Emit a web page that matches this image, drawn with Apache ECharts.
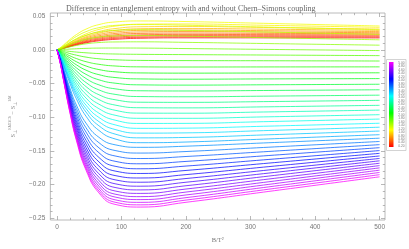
<!DOCTYPE html>
<html><head><meta charset="utf-8">
<script src="https://cdn.jsdelivr.net/npm/echarts@6/dist/echarts.min.js"></script>
<style>html,body{margin:0;padding:0;background:#fff}#c{width:409px;height:249px}</style>
</head><body><div id="c"></div>
<script>
// B/T^2 sample positions
const xSamples = [0, 5, 10, 20, 30, 45, 65, 90, 130, 200, 320, 500];
// coupling parameter of each curve (legend scale 0.20 .. 5.00)
const couplings = [0.2,0.3,0.4,0.5,0.6,0.7,0.8,0.9,1.0,1.1,1.2,1.3,1.4,1.5,1.6,1.7,1.8,1.9,2.0,2.1,2.2,2.3,2.4,2.5,2.6,2.7,2.8,2.9,3.0,3.1,3.2,3.3,3.4,3.5,3.6,3.7,3.8,3.9,4.0,4.1,4.2,4.3,4.4,4.5,4.6,4.7,4.8,4.9,5.0];
// S_EMDCS - S_EM at xSamples
const p02 = [0, .0010, .0023, .0049, .0074, .0105, .0135, .0157, .0173, .0179, .0179, .0178];
const p03 = [0, .0011, .0025, .0054, .0081, .0115, .0147, .0172, .0188, .0194, .0194, .0192];
const p04 = [0, .0012, .0027, .0059, .0088, .0125, .0161, .0188, .0206, .0212, .0210, .0207];
const p05 = [0, .0013, .0029, .0064, .0096, .0137, .0176, .0205, .0224, .0230, .0227, .0222];
const p06 = [0, .0014, .0032, .0070, .0105, .0150, .0192, .0224, .0245, .0250, .0246, .0238];
const p07 = [0, .0015, .0035, .0077, .0115, .0164, .0210, .0244, .0267, .0272, .0266, .0255];
const p08 = [0, .0017, .0038, .0084, .0126, .0179, .0229, .0266, .0290, .0295, .0286, .0272];
const p09 = [0, .0018, .0042, .0091, .0136, .0194, .0249, .0289, .0314, .0319, .0308, .0290];
const p10 = [0, .0020, .0046, .0100, .0150, .0213, .0273, .0317, .0344, .0348, .0333, .0310];
const p11 = [0, .0022, .0051, .0111, .0167, .0238, .0304, .0353, .0382, .0385, .0366, .0335];
const p12 = [0, .0032, .0073, .0155, .0227, .0309, .0376, .0415, .0430, .0421, .0395, .0355];
const p13 = [0, .0028, .0064, .0136, .0199, .0271, .0330, .0364, .0376, .0366, .0340, .0300];
const p14 = [0, .0023, .0051, .0109, .0160, .0217, .0264, .0291, .0300, .0290, .0266, .0230];
const p15 = [0, .0016, .0037, .0079, .0115, .0157, .0190, .0208, .0213, .0204, .0182, .0150];
const p16 = [0, .0009, .0021, .0045, .0066, .0090, .0109, .0118, .0120, .0112, .0095, .0070];
const p17 = [0, .0002, .0006, .0012, .0017, .0023, .0027, .0028, .0027, .0020, .0008, -.0010];
const p18 = [0, -.0005, -.0010, -.0022, -.0032, -.0043, -.0054, -.0061, -.0066, -.0070, -.0076, -.0085];
const p19 = [0, -.0011, -.0025, -.0054, -.0078, -.0107, -.0132, -.0147, -.0156, -.0159, -.0161, -.0165];
const p20 = [0, -.0018, -.0041, -.0088, -.0128, -.0175, -.0214, -.0239, -.0252, -.0254, -.0253, -.0252];
const p21 = [0, -.0025, -.0056, -.0119, -.0175, -.0239, -.0292, -.0325, -.0342, -.0345, -.0343, -.0340];
const p22 = [0, -.0032, -.0071, -.0151, -.0221, -.0301, -.0368, -.0410, -.0431, -.0435, -.0431, -.0426];
const p23 = [0, -.0038, -.0086, -.0182, -.0266, -.0363, -.0444, -.0494, -.0519, -.0523, -.0518, -.0510];
const p24 = [0, -.0045, -.0100, -.0213, -.0311, -.0425, -.0519, -.0578, -.0607, -.0610, -.0603, -.0592];
const p25 = [0, -.0051, -.0115, -.0243, -.0355, -.0485, -.0594, -.0660, -.0693, -.0696, -.0687, -.0672];
const p26 = [0, -.0057, -.0129, -.0273, -.0399, -.0545, -.0666, -.0740, -.0777, -.0779, -.0768, -.0749];
const p27 = [0, -.0063, -.0142, -.0302, -.0442, -.0603, -.0737, -.0819, -.0859, -.0861, -.0846, -.0823];
const p28 = [0, -.0069, -.0156, -.0330, -.0483, -.0660, -.0806, -.0896, -.0939, -.0940, -.0922, -.0894];
const p29 = [0, -.0075, -.0169, -.0358, -.0524, -.0715, -.0873, -.0970, -.1016, -.1016, -.0995, -.0962];
const p30 = [0, -.0081, -.0182, -.0385, -.0563, -.0769, -.0939, -.1043, -.1092, -.1091, -.1066, -.1027];
const p31 = [0, -.0086, -.0194, -.0411, -.0602, -.0821, -.1003, -.1113, -.1165, -.1162, -.1134, -.1089];
const p32 = [0, -.0092, -.0206, -.0437, -.0639, -.0872, -.1065, -.1182, -.1236, -.1232, -.1199, -.1148];
const p33 = [0, -.0097, -.0218, -.0462, -.0676, -.0923, -.1127, -.1250, -.1306, -.1300, -.1263, -.1205];
const p34 = [0, -.0104, -.0236, -.0497, -.0725, -.0985, -.1196, -.1322, -.1378, -.1368, -.1325, -.1259];
const p35 = [0, -.0120, -.0272, -.0567, -.0817, -.1088, -.1298, -.1409, -.1447, -.1430, -.1382, -.1311];
const p36 = [0, -.0128, -.0289, -.0603, -.0868, -.1156, -.1378, -.1494, -.1532, -.1509, -.1449, -.1360];
const p37 = [0, -.0135, -.0305, -.0636, -.0916, -.1220, -.1454, -.1575, -.1613, -.1583, -.1513, -.1407];
const p38 = [0, -.0142, -.0321, -.0669, -.0963, -.1283, -.1527, -.1654, -.1691, -.1656, -.1574, -.1452];
const p39 = [0, -.0148, -.0336, -.0700, -.1008, -.1342, -.1597, -.1728, -.1765, -.1725, -.1633, -.1495];
const p40 = [0, -.0155, -.0350, -.0730, -.1050, -.1398, -.1663, -.1799, -.1835, -.1790, -.1688, -.1536];
const p41 = [0, -.0160, -.0363, -.0757, -.1090, -.1451, -.1726, -.1866, -.1902, -.1852, -.1741, -.1575];
const p42 = [0, -.0166, -.0376, -.0784, -.1128, -.1501, -.1785, -.1929, -.1965, -.1910, -.1791, -.1612];
const p43 = [0, -.0171, -.0388, -.0808, -.1163, -.1548, -.1840, -.1988, -.2024, -.1965, -.1838, -.1647];
const p44 = [0, -.0176, -.0399, -.0831, -.1196, -.1591, -.1891, -.2043, -.2079, -.2017, -.1883, -.1683];
const p45 = [0, -.0180, -.0409, -.0852, -.1227, -.1632, -.1940, -.2095, -.2131, -.2066, -.1927, -.1718];
const p46 = [0, -.0184, -.0418, -.0872, -.1255, -.1669, -.1984, -.2142, -.2179, -.2111, -.1968, -.1752];
const p47 = [0, -.0188, -.0427, -.0890, -.1280, -.1703, -.2024, -.2185, -.2223, -.2154, -.2007, -.1786];
const p48 = [0, -.0192, -.0435, -.0906, -.1304, -.1735, -.2062, -.2226, -.2264, -.2194, -.2044, -.1820];
const p49 = [0, -.0195, -.0442, -.0920, -.1325, -.1763, -.2095, -.2262, -.2301, -.2230, -.2079, -.1853];
const p50 = [0, -.0197, -.0448, -.0933, -.1343, -.1787, -.2124, -.2294, -.2334, -.2263, -.2112, -.1885];
const curveValues = [p02,p03,p04,p05,p06,p07,p08,p09,p10,p11,p12,p13,p14,p15,p16,p17,p18,p19,p20,p21,p22,p23,p24,p25,p26,p27,p28,p29,p30,p31,p32,p33,p34,p35,p36,p37,p38,p39,p40,p41,p42,p43,p44,p45,p46,p47,p48,p49,p50];
// tick labels
const xMajorTicks = [0, 100, 200, 300, 400, 500];
const xMinorTicks = [20,40,60,80,120,140,160,180,220,240,260,280,320,340,360,380,420,440,460,480];
const yMajorTicks = [-0.25, -0.20, -0.15, -0.10, -0.05, 0.00, 0.05];
const yMinorTicks = [-0.24,-0.23,-0.22,-0.21,-0.19,-0.18,-0.17,-0.16,-0.14,-0.13,-0.12,-0.11,-0.09,-0.08,-0.07,-0.06,-0.04,-0.03,-0.02,-0.01,0.01,0.02,0.03,0.04];
const legendLabels = ['5.00','4.80','4.60','4.40','4.20','4.00','3.80','3.60','3.40','3.20','3.00','2.80','2.60','2.40','2.20','2.00','1.80','1.60','1.40','1.20','1.00','0.80','0.60','0.40','0.20'];

const pMin = 0.2, pMax = 5.0;
function hueOf(p){ return 300 * (p - pMin) / (pMax - pMin); }
function colorOf(p){ return 'hsl(' + hueOf(p).toFixed(1) + ',100%,50%)'; }

const X0 = -10.3, X1 = 508.4, Y0 = -0.2526, Y1 = 0.0548;
const tickColor = '#9a9a9a';
const labelColor = '#777';

function xAx(pos, ticks, len, labels){
  return {
    type:'value', position:pos, min:X0, max:X1,
    axisLine:{show:false, onZero:false}, splitLine:{show:false},
    axisTick:{show:true, inside:true, length:len, customValues:ticks, lineStyle:{color:tickColor, width:0.7}},
    axisLabel:{show:labels, customValues:ticks, fontSize:6.5, color:labelColor, margin:4, fontFamily:'Liberation Sans'}
  };
}
function yAx(pos, ticks, len, labels){
  return {
    type:'value', position:pos, min:Y0, max:Y1,
    axisLine:{show:false, onZero:false}, splitLine:{show:false},
    axisTick:{show:true, inside:true, length:len, customValues:ticks, lineStyle:{color:tickColor, width:0.7}},
    axisLabel:{show:labels, customValues:ticks, fontSize:6.5, color:labelColor, margin:5, fontFamily:'Liberation Sans',
      formatter: v => (v < -1e-9 ? '\u2212' : '') + Math.abs(v).toFixed(2)}
  };
}

const xAxes = [xAx('bottom', xMajorTicks, 4, true), xAx('bottom', xMinorTicks, 2.2, false), xAx('top', xMajorTicks, 4, false), xAx('top', xMinorTicks, 2.2, false)];
xAxes[0].name = 'B/T\u00B2';
xAxes[0].nameLocation = 'middle';
xAxes[0].nameGap = 17;
xAxes[0].nameTextStyle = {fontSize:6.5, color:'#777', fontFamily:'Liberation Serif'};

const yAxes = [yAx('left', yMajorTicks, 4, true), yAx('left', yMinorTicks, 2.2, false), yAx('right', yMajorTicks, 4, false), yAx('right', yMinorTicks, 2.2, false)];
yAxes[0].name = '{b|S}{sb|\u22A5}{sp|EMDCS}{b| \u2212 S}{sb|\u22A5}{sp|EM}';
yAxes[0].nameLocation = 'middle';
yAxes[0].nameRotate = 90;
yAxes[0].nameGap = 21;
yAxes[0].nameTextStyle = {color:'#888', fontFamily:'Liberation Serif', rich:{
  b:{fontSize:6.5, color:'#888', fontFamily:'Liberation Serif', lineHeight:10},
  sb:{fontSize:4.5, color:'#888', verticalAlign:'bottom', lineHeight:10},
  sp:{fontSize:4, color:'#888', verticalAlign:'top', lineHeight:10}
}};

const series = couplings.map((p, k) => ({
  type:'line', xAxisIndex:0, yAxisIndex:0,
  data: xSamples.map((x, i) => [x, curveValues[k][i]]),
  showSymbol:false, smooth:0.5, silent:true,
  lineStyle:{width:0.75, color:colorOf(p)}, z:2
}));

// legend colour bar
const gradStops = [];
for (let h = 300; h >= 0; h -= 30) gradStops.push({offset:(300 - h) / 300, color:'hsl(' + h + ',100%,50%)'});
const barTop = 62, barH = 85;
const legendGraphics = [
  {type:'rect', shape:{x:386.5, y:59.5, width:19.5, height:91}, style:{fill:'#fff', stroke:'#c8c8c8', lineWidth:0.8}, z:10},
  {type:'rect', shape:{x:389, y:barTop, width:4.5, height:barH}, style:{fill:new echarts.graphic.LinearGradient(0,0,0,1,gradStops)}, z:11}
];
legendLabels.forEach((t, i) => {
  legendGraphics.push({type:'text', x:404.5, y:barTop + 1 + i * (barH - 2) / (legendLabels.length - 1),
    style:{text:t, fontSize:3.2, fill:'#777', align:'right', verticalAlign:'middle', fontFamily:'Liberation Sans'}, z:11});
});

const chart = echarts.init(document.getElementById('c'), null, {renderer:'canvas'});
chart.setOption({
  animation:false,
  backgroundColor:'#fff',
  title:{text:'Difference in entanglement entropy with and without Chern\u2013Simons coupling', left:61, top:0,
    textStyle:{fontSize:8, fontWeight:'normal', color:'#666', fontFamily:'Liberation Serif'}},
  grid:{left:34, right:24, top:13, bottom:23, show:true, borderColor:'#a8a8a8', borderWidth:0.8, backgroundColor:'transparent'},
  xAxis:xAxes, yAxis:yAxes, series:series, graphic:legendGraphics
});
</script></body></html>
